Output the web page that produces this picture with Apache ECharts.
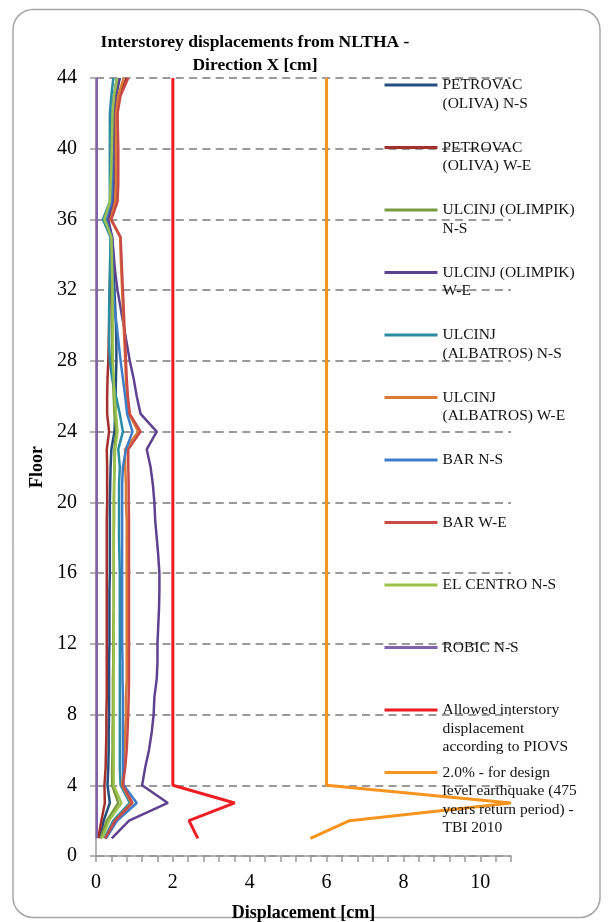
<!DOCTYPE html>
<html><head><meta charset="utf-8">
<script src="https://cdn.jsdelivr.net/npm/echarts@6/dist/echarts.min.js"></script>
<style>html,body{margin:0;padding:0;background:#fff}#c{width:609px;height:922px}</style>
</head><body><div id="c"></div>
<script>
// ---------------- DATA ----------------
const floors = [1,2,3,4,5,6,7,8,9,10,11,12,13,14,15,16,17,18,19,20,21,22,23,24,25,26,27,28,29,30,31,32,33,34,35,36,37,38,39,40,41,42,43,44];

const seriesNames = [
  'PETROVAC (OLIVA) N-S','PETROVAC (OLIVA) W-E','ULCINJ (OLIMPIK) N-S','ULCINJ (OLIMPIK) W-E',
  'ULCINJ (ALBATROS) N-S','ULCINJ (ALBATROS) W-E','BAR N-S','BAR W-E','EL CENTRO N-S','ROBIC N-S',
  'Allowed interstory displacement according to PIOVS',
  '2.0% - for design level earthquake (475 years return period) - TBI 2010'
];
const legendLabels = [
  'PETROVAC\n(OLIVA) N-S','PETROVAC\n(OLIVA) W-E','ULCINJ (OLIMPIK)\nN-S','ULCINJ (OLIMPIK)\nW-E',
  'ULCINJ\n(ALBATROS) N-S','ULCINJ\n(ALBATROS) W-E','BAR N-S','BAR W-E','EL CENTRO N-S','ROBIC N-S',
  'Allowed interstory\ndisplacement\naccording to PIOVS',
  '2.0% - for design\nlevel earthquake (475\nyears return period) -\nTBI 2010'
];

const petrovacNS = [0.10,0.20,0.36,0.30,0.32,0.33,0.33,0.34,0.34,0.34,0.34,0.35,0.35,0.35,0.35,0.36,0.36,0.36,0.36,0.36,0.37,0.38,0.40,0.48,0.50,0.51,0.52,0.53,0.53,0.52,0.50,0.48,0.46,0.45,0.42,0.28,0.44,0.46,0.46,0.47,0.47,0.48,0.52,0.62];
const petrovacWE = [0.06,0.14,0.23,0.22,0.25,0.26,0.27,0.27,0.28,0.28,0.28,0.28,0.28,0.28,0.28,0.28,0.28,0.28,0.28,0.29,0.29,0.29,0.28,0.34,0.29,0.29,0.30,0.32,0.33,0.34,0.35,0.36,0.37,0.38,0.40,0.30,0.52,0.55,0.56,0.56,0.55,0.55,0.60,0.80];
const olimpikNS = [0.12,0.28,0.58,0.42,0.42,0.43,0.43,0.44,0.44,0.44,0.45,0.45,0.45,0.46,0.46,0.46,0.46,0.46,0.47,0.47,0.47,0.48,0.48,0.53,0.48,0.46,0.44,0.42,0.42,0.42,0.42,0.42,0.42,0.40,0.38,0.24,0.38,0.40,0.42,0.43,0.43,0.44,0.48,0.54];
const olimpikWE = [0.41,0.86,1.87,1.20,1.28,1.38,1.45,1.50,1.52,1.58,1.60,1.60,1.62,1.64,1.65,1.65,1.62,1.58,1.54,1.52,1.48,1.42,1.32,1.58,1.16,1.06,0.98,0.88,0.80,0.72,0.64,0.56,0.50,0.46,0.42,0.32,0.44,0.46,0.46,0.47,0.47,0.48,0.52,0.60];
const albatrosNS = [0.22,0.45,0.88,0.64,0.62,0.62,0.62,0.62,0.62,0.62,0.62,0.62,0.62,0.62,0.62,0.62,0.61,0.60,0.60,0.60,0.60,0.62,0.58,0.70,0.62,0.52,0.42,0.36,0.34,0.34,0.34,0.35,0.36,0.37,0.38,0.18,0.36,0.36,0.36,0.36,0.36,0.36,0.40,0.45];
const albatrosWE = [0.25,0.50,0.92,0.68,0.72,0.74,0.76,0.78,0.78,0.80,0.80,0.80,0.80,0.80,0.80,0.80,0.80,0.80,0.80,0.78,0.78,0.76,0.76,1.10,0.86,0.81,0.78,0.76,0.74,0.72,0.70,0.68,0.66,0.64,0.63,0.38,0.50,0.52,0.52,0.52,0.52,0.52,0.58,0.72];
const barNS = [0.26,0.55,1.06,0.72,0.70,0.70,0.70,0.70,0.70,0.69,0.69,0.68,0.68,0.68,0.68,0.68,0.68,0.68,0.68,0.68,0.68,0.70,0.78,0.95,0.81,0.76,0.70,0.64,0.59,0.54,0.48,0.45,0.43,0.42,0.40,0.26,0.40,0.42,0.42,0.42,0.42,0.42,0.46,0.55];
const barWE = [0.24,0.50,0.95,0.70,0.76,0.80,0.82,0.84,0.85,0.86,0.86,0.86,0.86,0.86,0.86,0.86,0.86,0.86,0.86,0.85,0.85,0.84,0.84,1.16,0.88,0.83,0.80,0.78,0.76,0.74,0.72,0.70,0.68,0.66,0.64,0.40,0.56,0.58,0.58,0.58,0.57,0.56,0.64,0.84];
const elCentroNS = [0.16,0.34,0.66,0.46,0.46,0.46,0.46,0.46,0.46,0.46,0.46,0.46,0.46,0.46,0.46,0.46,0.46,0.46,0.46,0.46,0.47,0.48,0.50,0.56,0.52,0.48,0.46,0.44,0.44,0.44,0.43,0.43,0.42,0.41,0.40,0.22,0.36,0.38,0.40,0.41,0.42,0.43,0.47,0.55];
const robicNS = [0.02,0.02,0.02,0.02,0.02,0.02,0.02,0.02,0.02,0.02,0.02,0.02,0.02,0.02,0.02,0.02,0.02,0.02,0.02,0.02,0.02,0.02,0.02,0.02,0.02,0.02,0.02,0.02,0.02,0.02,0.02,0.02,0.02,0.02,0.02,0.02,0.02,0.02,0.02,0.02,0.02,0.02,0.02,0.02];
const allowedPIOVS = [2.65,2.42,3.61,2,2,2,2,2,2,2,2,2,2,2,2,2,2,2,2,2,2,2,2,2,2,2,2,2,2,2,2,2,2,2,2,2,2,2,2,2,2,2,2,2];
const tbi2010 = [5.58,6.6,10.8,6,6,6,6,6,6,6,6,6,6,6,6,6,6,6,6,6,6,6,6,6,6,6,6,6,6,6,6,6,6,6,6,6,6,6,6,6,6,6,6,6];

const xTickLabels = [0,2,4,6,8,10];
const yTickLabels = [0,4,8,12,16,20,24,28,32,36,40,44];

// ---------------- STYLE ----------------
const allValues = [petrovacNS,petrovacWE,olimpikNS,olimpikWE,albatrosNS,albatrosWE,barNS,barWE,elCentroNS,robicNS,allowedPIOVS,tbi2010];
const colors = ['#254E80','#A3302D','#7A9A3E','#5E4290','#2A8BA2','#DB7A33','#3D7CC9','#C94A47','#9CC24C','#8263AB','#EE1D23','#F7941E'];
const widths = [2.5,2.5,2.5,2.5,2.5,2.5,2.5,2.5,2.5,2.5,3,3];
const SERIF = "'Liberation Serif','Times New Roman',serif";

const chart = echarts.init(document.getElementById('c'), null, {renderer:'canvas'});

const series = allValues.map((vals, k) => ({
  name: seriesNames[k],
  type: 'line',
  data: vals.map((v, i) => [v, floors[i]]),
  symbol: 'none',
  lineStyle: {color: colors[k], width: widths[k]},
  itemStyle: {color: colors[k]},
  animation: false,
  z: 2
}));

const LH = 18.5;
const legends = seriesNames.map((name, k) => {
  const n = legendLabels[k].split('\n').length;
  const label = '\n'.repeat(n - 1) + legendLabels[k];
  const center = 85 + 62.5 * k;
  return {
    data: [name],
    orient: 'vertical',
    left: 383,
    top: center - (2 * n - 1) * LH / 2,
    padding: 0,
    itemWidth: 53,
    itemHeight: 3,
    selectedMode: false,
    itemStyle: {opacity: 0},
    lineStyle: {width: 3},
    formatter: () => label,
    textStyle: {fontFamily: SERIF, fontSize: 15.5, color: '#111', lineHeight: LH}
  };
});

const isEven = v => Math.abs(v - Math.round(v)) < 1e-6 && Math.round(v) % 2 === 0;

chart.setOption({
  animation: false,
  backgroundColor: '#fff',
  title: {
    text: 'Interstorey displacements from NLTHA -\nDirection X [cm]',
    left: 255, top: 31, textAlign: 'center', padding: 0,
    textStyle: {fontFamily: SERIF, fontWeight: 'bold', fontSize: 17.5, lineHeight: 23, color: '#000'}
  },
  graphic: [{
    type: 'rect', z: -10, silent: true,
    shape: {x: 13, y: 9.5, width: 587, height: 908, r: 20},
    style: {fill: '#fff', stroke: '#A6A6A6', lineWidth: 1.5}
  }],
  legend: legends,
  grid: {left: 96, top: 78, width: 415, height: 778, containLabel: false, outerBoundsMode: 'none'},
  xAxis: {
    type: 'value', min: 0, max: 10.8, interval: 0.4,
    name: 'Displacement [cm]', nameLocation: 'middle', nameGap: 48,
    nameTextStyle: {fontFamily: SERIF, fontWeight: 'bold', fontSize: 18, color: '#000'},
    axisLine: {show: true, lineStyle: {color: '#9A9A9A', width: 1.5}},
    axisTick: {show: true, length: 6, lineStyle: {color: '#9A9A9A', width: 1.5}},
    axisLabel: {
      interval: 0, margin: 17, fontFamily: SERIF, fontSize: 20, color: '#000',
      formatter: v => (isEven(v) && xTickLabels.indexOf(Math.round(v)) >= 0) ? String(Math.round(v)) : ''
    },
    splitLine: {show: false}
  },
  yAxis: {
    type: 'value', min: 0, max: 44, interval: 4,
    name: 'Floor', nameLocation: 'middle', nameGap: 46, nameRotate: 90,
    nameTextStyle: {fontFamily: SERIF, fontWeight: 'bold', fontSize: 18, color: '#000'},
    axisLine: {show: true, lineStyle: {color: '#9A9A9A', width: 1.5}},
    axisTick: {show: true, length: 6, lineStyle: {color: '#9A9A9A', width: 1.5}},
    axisLabel: {
      margin: 19, fontFamily: SERIF, fontSize: 20, color: '#000',
      formatter: v => yTickLabels.indexOf(v) >= 0 ? String(v) : ''
    },
    splitLine: {show: true, lineStyle: {color: '#9A9A9A', width: 2, type: [8, 5.3]}}
  },
  series: series
});
</script>
</body></html>
